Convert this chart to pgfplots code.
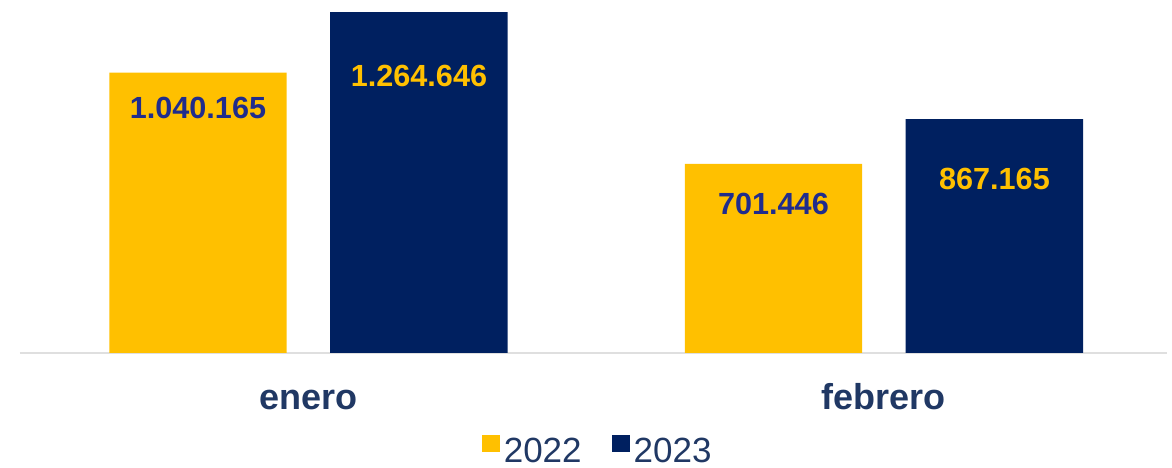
\documentclass[border=0pt]{standalone}
\usepackage{pgfplots}
\pgfplotsset{compat=1.18}
\usepackage{fontspec}
\setmainfont{Liberation Sans}

\definecolor{amarillo}{HTML}{FFC000}
\definecolor{marino}{HTML}{002060}
\definecolor{textoazul}{HTML}{203864}
\definecolor{etiqazul}{HTML}{202C8C}

\begin{document}
\begin{tikzpicture}
\begin{axis}[
    scale only axis,
    width=573.5pt,
    height=176.5pt,
    xmin=-0.5013, xmax=1.4918,
    ymin=0, ymax=1309200,
    axis x line=bottom,
    axis y line=none,
    x axis line style={-, draw=gray!25, line width=0.75pt},
    xtick={0,1},
    xticklabels={enero,febrero},
    major tick length=0pt,
    ytick=\empty,
    xticklabel style={font=\bfseries\fontsize{18}{18}\selectfont, text=textoazul,
        anchor=base, yshift=-28.5pt},
    legend style={
        at={(axis description cs:0.5045,-0.281)}, anchor=center,
        draw=none, fill=none,
        font=\fontsize{17.5}{17.5}\selectfont, text=textoazul,
        /tikz/every even column/.append style={column sep=13pt},
    },
    legend columns=2,
    legend image code/.code={\fill[#1] (-2.5pt,0pt) rectangle (6.5pt,8.5pt);},
]

% ventas 2022
\addplot[ybar, bar width=0.3084, bar shift=-0.192, fill=amarillo, draw=none]
    coordinates {(0,1040165) (1,701446)};
\addlegendentry{2022}

% ventas 2023
\addplot[ybar, bar width=0.3084, bar shift=0.192, fill=marino, draw=none]
    coordinates {(0,1264646) (1,867165)};
\addlegendentry{2023}

% etiquetas dentro de las barras
\addplot[forget plot, only marks, mark=none, point meta=explicit symbolic,
    nodes near coords, nodes near coords style={anchor=center,
    font=\bfseries\fontsize{15.3}{15.3}\selectfont, text=etiqazul}]
    coordinates {(-0.192,908660) [1.040.165] (0.808,554463) [701.446]};
\addplot[forget plot, only marks, mark=none, point meta=explicit symbolic,
    nodes near coords, nodes near coords style={anchor=center,
    font=\bfseries\fontsize{15.3}{15.3}\selectfont, text=amarillo}]
    coordinates {(0.192,1027334) [1.264.646] (1.192,647184) [867.165]};

\coordinate (bl) at (rel axis cs:0,0);
\coordinate (tr) at (rel axis cs:1,1);
\end{axis}
\pgfresetboundingbox
\path ([shift={(-10pt,-57.5pt)}]bl) rectangle ([shift={(2.5pt,0pt)}]tr);
\end{tikzpicture}
\end{document}
